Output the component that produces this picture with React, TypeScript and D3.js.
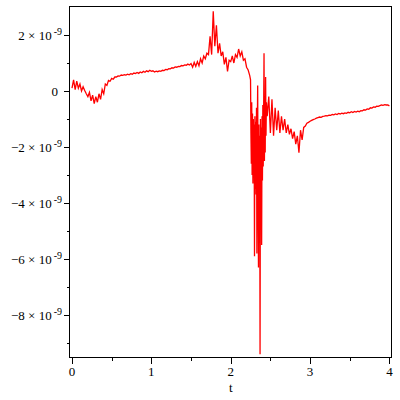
import React from "react";
import * as d3 from "d3";

// Values in units of 1e-9
// Segment A: t = 0.00 .. 2.24, step 0.02
const valuesA = [
  0.10, 0.40, 0.05, 0.35, 0.10, 0.25, 0.00, 0.15, 0.02, -0.10,
  -0.20, -0.05, -0.35, -0.15, -0.45, -0.20, -0.40, -0.10, -0.30, 0.05,
  -0.10, 0.25, 0.20, 0.38, 0.35, 0.45, 0.42, 0.50, 0.50, 0.54,
  0.53, 0.57, 0.56, 0.58, 0.57, 0.60, 0.58, 0.62, 0.60, 0.64,
  0.62, 0.66, 0.63, 0.68, 0.65, 0.70, 0.67, 0.72, 0.69, 0.74,
  0.70, 0.72, 0.68, 0.71, 0.69, 0.72, 0.70, 0.74, 0.73, 0.77,
  0.76, 0.80, 0.79, 0.83, 0.82, 0.86, 0.85, 0.88, 0.87, 0.91,
  0.90, 0.93, 0.92, 0.96, 0.93, 0.98, 0.85, 1.02, 0.88, 1.05,
  0.90, 1.15, 1.00, 1.25, 1.15, 1.35, 1.30, 1.95, 1.30, 2.85,
  1.60, 2.35, 1.35, 1.70, 1.25, 1.40, 0.95, 1.20, 0.70, 1.10,
  1.05, 1.25, 1.00, 1.30, 1.20, 1.50, 1.25, 1.40, 1.10, 1.15,
  0.85, 0.75, 0.55,
];
// Segment B: t = 2.250 .. 2.450, step 0.005
const valuesB = [
  0.40, -1.50, -2.60, -0.40, -3.00, -0.80, -3.30, -1.00, -3.10, -1.20,
  -5.90, -0.90, -3.50, -1.10, -3.70, -0.60, -5.80, -1.40, 0.20, -3.60,
  -6.30, -1.20, -3.80, -1.60, -9.40, -1.00, -3.70, -1.30, -5.50, -0.90,
  -3.20, -0.50, -2.70, -0.80, 1.35, -2.50, -0.60, -2.20, 0.50, -1.60,
  -0.40,
];
// Segment C: t = 2.46 .. 4.00, step 0.02
const valuesC = [
  -0.90, -0.20, -1.50, -0.30, -1.60, -0.60, -1.40, -0.70, -1.50, -0.90,
  -1.40, -1.00, -1.50, -1.20, -1.55, -1.35, -1.70, -1.45, -1.90, -1.60,
  -2.20, -1.40, -1.75, -1.30, -1.25, -1.15, -1.12, -1.08,
  -1.05, -1.02, -1.00, -0.97, -0.95, -0.93, -0.94, -0.91, -0.90, -0.88,
  -0.89, -0.86, -0.87, -0.84, -0.85, -0.82, -0.84, -0.80, -0.82, -0.79,
  -0.81, -0.78, -0.80, -0.76, -0.78, -0.74, -0.77, -0.73, -0.75, -0.72,
  -0.74, -0.70, -0.71, -0.67, -0.68, -0.64, -0.65, -0.60, -0.61, -0.57,
  -0.58, -0.54, -0.55, -0.52, -0.50, -0.51, -0.49, -0.50, -0.50, -0.53,
];
const segStarts = [0, 2.25, 2.46];
const segSteps = [0.02, 0.005, 0.02];

const xMajorTicks = [0, 1, 2, 3, 4];
const xMinorTicks = [0.5, 1.5, 2.5, 3.5];
const yMajorTicks = [2, 0, -2, -4, -6, -8];
const yMinorTicks = [1, -1, -3, -5, -7, -9];
const xLabel = "t";

const points: [number, number][] = [];
[valuesA, valuesB, valuesC].forEach((seg, s) => {
  seg.forEach((v, i) => {
    points.push([+(segStarts[s] + i * segSteps[s]).toFixed(3), v]);
  });
});

const FONT = "'Liberation Serif', 'Times New Roman', serif";

export default function App() {
  const x = d3.scaleLinear().domain([0, 4]).range([72, 389.4]);
  const y = d3.scaleLinear().domain([-8, 2]).range([315, 35]);
  const left = 69.5, right = 391.5, top = 6.5, bottom = 357.5;
  const line = d3
    .line<[number, number]>()
    .x((d) => x(d[0]))
    .y((d) => y(d[1]));

  return (
    <svg
      width={400}
      height={400}
      style={{ position: "absolute", left: 0, top: 0, background: "#fff" }}
      fontFamily={FONT}
    >
      <rect x={0} y={0} width={400} height={400} fill="#fff" />
      <path d={line(points) || ""} fill="none" stroke="#ff0000" strokeWidth={1.3} strokeLinejoin="miter" />
      <g shapeRendering="crispEdges" stroke="#000" strokeWidth={1}>
        <rect x={left} y={top} width={right - left} height={bottom - top} fill="none" />
        {xMajorTicks.map((t) => (
          <line key={"xM" + t} x1={Math.round(x(t)) + 0.5} x2={Math.round(x(t)) + 0.5} y1={bottom} y2={bottom + 6} />
        ))}
        {xMinorTicks.map((t) => (
          <line key={"xm" + t} x1={Math.round(x(t)) + 0.5} x2={Math.round(x(t)) + 0.5} y1={bottom} y2={bottom + 3} />
        ))}
        {yMajorTicks.map((v) => (
          <line key={"yM" + v} x1={left - 6} x2={left} y1={Math.round(y(v)) + 0.5} y2={Math.round(y(v)) + 0.5} />
        ))}
        {yMinorTicks.map((v) => (
          <line key={"ym" + v} x1={left - 3} x2={left} y1={Math.round(y(v)) + 0.5} y2={Math.round(y(v)) + 0.5} />
        ))}
      </g>
      <g fontSize={13} fill="#000">
        {xMajorTicks.map((t) => (
          <text key={"xl" + t} x={x(t)} y={376} textAnchor="middle">
            {String(t)}
          </text>
        ))}
        <text x={x(2)} y={392} textAnchor="middle">
          {xLabel}
        </text>
        {yMajorTicks.map((v) =>
          v === 0 ? (
            <text key={"yl" + v} x={58} y={y(v) + 4.5} textAnchor="end">
              0
            </text>
          ) : (
            <text key={"yl" + v} x={62} y={y(v) + 4.5} textAnchor="end">
              {(v < 0 ? "\u2212" + Math.abs(v) : String(v)) + " \u00d7 10"}
              <tspan dx={2} dy={-4.5} fontSize={10}>
                -9
              </tspan>
            </text>
          )
        )}
      </g>
    </svg>
  );
}
